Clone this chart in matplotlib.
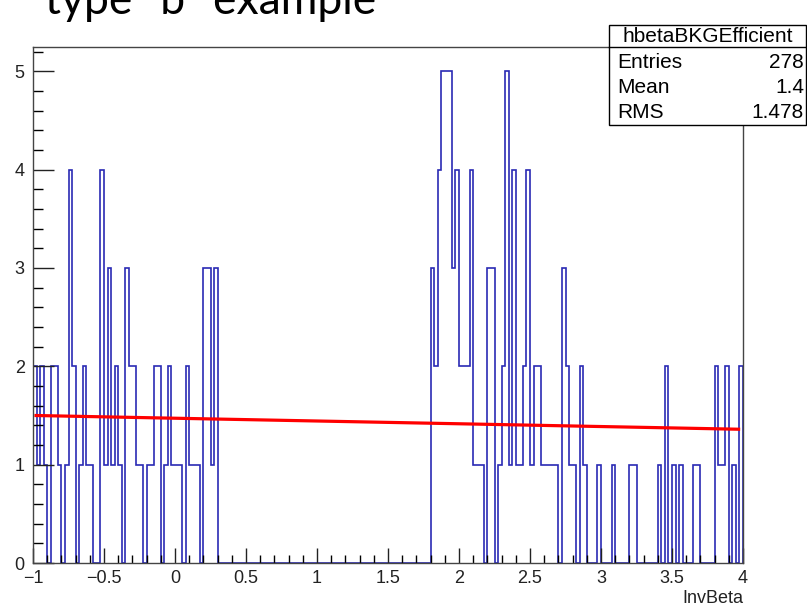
import matplotlib
matplotlib.use("Agg")
import matplotlib.pyplot as plt
from matplotlib.ticker import MultipleLocator, FuncFormatter
from matplotlib.patches import Rectangle
import numpy as np

# histogram "hbetaBKGEfficient": 200 bins on [-1, 4]
x_range = (-1.0, 4.0)
counts = [
    2, 1, 2, 1, 0, 2, 2, 1, 0, 1, 4, 2, 0, 1, 2, 1, 1, 0, 0, 4,
    1, 3, 1, 2, 1, 0, 3, 2, 2, 1, 1, 0, 1, 1, 2, 2, 0, 1, 2, 1,
    1, 1, 0, 2, 1, 1, 1, 0, 3, 3, 1, 3, 0, 0, 0, 0, 0, 0, 0, 0,
    0, 0, 0, 0, 0, 0, 0, 0, 0, 0, 0, 0, 0, 0, 0, 0, 0, 0, 0, 0,
    0, 0, 0, 0, 0, 0, 0, 0, 0, 0, 0, 0, 0, 0, 0, 0, 0, 0, 0, 0,
    0, 0, 0, 0, 0, 0, 0, 0, 0, 0, 0, 0, 3, 2, 4, 5, 5, 5, 3, 4,
    2, 2, 2, 4, 1, 1, 1, 0, 3, 3, 0, 1, 2, 5, 1, 4, 1, 1, 2, 4,
    1, 2, 2, 1, 1, 1, 1, 1, 0, 3, 2, 1, 1, 0, 2, 1, 0, 0, 0, 1,
    0, 0, 0, 1, 0, 0, 0, 0, 1, 1, 0, 0, 0, 0, 0, 0, 1, 0, 2, 0,
    1, 0, 1, 0, 0, 0, 1, 1, 0, 0, 0, 0, 2, 1, 1, 2, 0, 1, 0, 2,
]

# straight-line fit drawn over the histogram
fit_x = [-0.99, 3.98]
fit_y = [1.50, 1.36]

stats_title = "hbetaBKGEfficient"
stats_rows = [("Entries", "278"), ("Mean", "1.4"), ("RMS", "1.478")]

W, H = 807, 608
fig = plt.figure(figsize=(W / 100, H / 100), dpi=100)
ax = fig.add_axes([33 / W, 45 / H, 710 / W, (563 - 46.7) / H])

edges = np.linspace(x_range[0], x_range[1], len(counts) + 1)
ax.stairs(counts, edges, color="#2a2ab4", lw=1.2)
ax.plot(fit_x, fit_y, color="#ff0000", lw=2.3, solid_capstyle="butt")

ax.set_xlim(*x_range)
ax.set_ylim(0, 5.25)

ax.xaxis.set_major_locator(MultipleLocator(0.5))
ax.xaxis.set_minor_locator(MultipleLocator(0.1))
ax.yaxis.set_major_locator(MultipleLocator(1))
ax.yaxis.set_minor_locator(MultipleLocator(0.2))
ax.xaxis.set_major_formatter(FuncFormatter(lambda v, p: f"{v:g}".replace("-", "\u2212")))

ax.tick_params(axis="x", which="major", direction="in", length=11, width=1, pad=5)
ax.tick_params(axis="x", which="minor", direction="in", length=5.5, width=1)
ax.tick_params(axis="y", which="major", direction="in", length=15, width=1, pad=6)
ax.tick_params(axis="y", which="minor", direction="in", length=7.5, width=1)
ax.tick_params(colors="#222222", labelsize=13)
for lab in ax.get_xticklabels() + ax.get_yticklabels():
    lab.set_family("Liberation Sans")
for sp in ax.spines.values():
    sp.set_color("#444444")
    sp.set_linewidth(1.0)

ax.set_xlabel("InvBeta", loc="right", fontsize=13, family="Liberation Sans",
              color="#222222", labelpad=2)

# slide title, cut at the top edge
fig.text(45 / W, 1 - 14 / H, 'type "b" example', fontsize=32, family="Lato",
         va="baseline", ha="left", color="black")

# stats box
bx0, bx1, by_top, by_sep, by_bot = 609, 806, 25, 47, 125
fig.patches.append(Rectangle((bx0 / W, 1 - by_bot / H), (bx1 - bx0) / W,
                             (by_bot - by_top) / H, transform=fig.transFigure,
                             facecolor="white", edgecolor="black", lw=1.0, zorder=5))
fig.add_artist(plt.Line2D([bx0 / W, bx1 / W], [1 - by_sep / H, 1 - by_sep / H],
                          transform=fig.transFigure, color="black", lw=1.0, zorder=6))
fig.text((bx0 + bx1) / 2 / W, 1 - 36 / H, stats_title, fontsize=15,
         family="Liberation Sans", ha="center", va="center", zorder=7)
for i, (name, val) in enumerate(stats_rows):
    yy = 1 - (62 + i * 25.5) / H
    fig.text(617 / W, yy, name, fontsize=15, family="Liberation Sans",
             ha="left", va="center", zorder=7)
    fig.text(804 / W, yy, val, fontsize=15, family="Liberation Sans",
             ha="right", va="center", zorder=7)

fig.savefig("out.png", dpi=100)
